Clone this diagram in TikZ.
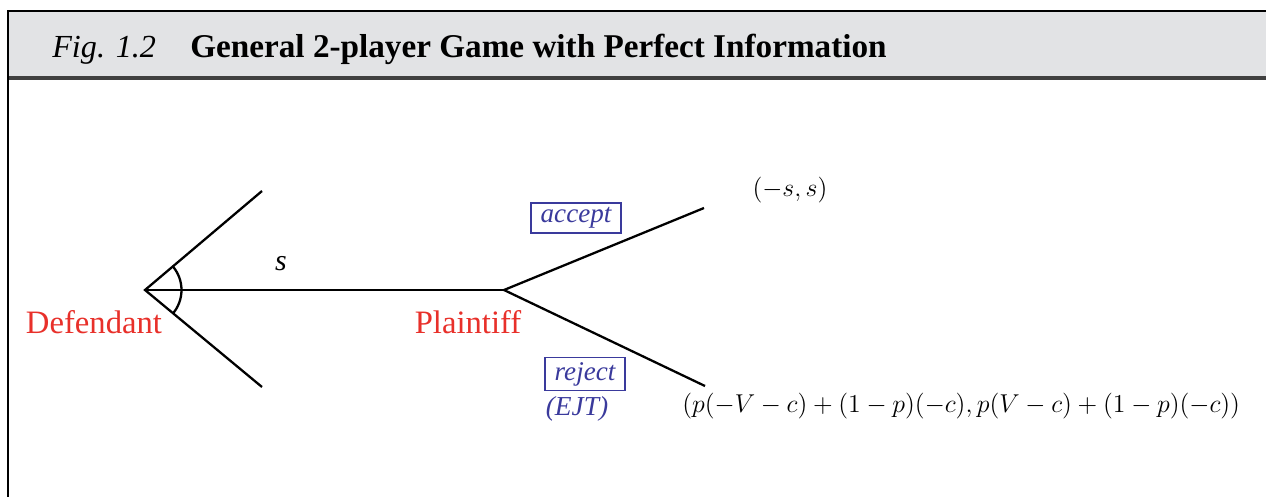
\documentclass[tikz,border=0pt]{standalone}
\usepackage[no-math]{fontspec}
\setmainfont{Liberation Serif}
\usetikzlibrary{calc}
\definecolor{plred}{HTML}{E8302A}
\definecolor{moveblue}{HTML}{3A3A9C}
\definecolor{bandgray}{HTML}{E2E3E5}
\tikzset{
  branch/.style={line width=1.3pt},
  player/.style={text=plred, font=\fontsize{18.6}{22}\selectfont},
  movebox/.style={draw=moveblue, line width=0.8pt, text=moveblue, font=\fontsize{15.4}{18}\selectfont\itshape, inner xsep=5.5pt, inner ysep=2.5pt},
  payoff/.style={font=\fontsize{14.4}{17}\selectfont, scale=1.02},
}
\begin{document}
\begin{tikzpicture}[x=0.02cm, y=-0.02cm]
\useasboundingbox (0,0) rectangle (1266,497);
% header band
\fill[bandgray] (8,11) rectangle (1266,78);
\draw[line width=1.4pt] (8,11) -- (1266,11);
\draw[line width=2pt, black!75] (8,78) -- (1266,78);
\draw[line width=1.2pt] (8,10) -- (8,497);
\node[anchor=base west, inner sep=0pt, font=\fontsize{18.3}{22}\selectfont\itshape] (fig) at (52,57) {Fig. 1.2};
\node[anchor=base west, inner sep=0pt, font=\fontsize{18.9}{22}\selectfont\bfseries] (title) at (190,57) {General 2-player Game with Perfect Information};

% tree
\coordinate (def) at (145,290);
\coordinate (pla) at (504,290);
\coordinate (up) at (262,191);
\coordinate (down) at (262,387);
\coordinate (acc) at (704,208);
\coordinate (rej) at (705,386);
\draw[branch] (up) -- (def) -- (down);
\draw[branch] (def) -- (pla);
\draw[branch] (acc) -- (pla) -- (rej);
\draw[branch] ($(def)+(-40:0.73cm)$) arc[start angle=-40, end angle=40, radius=0.73cm];

\node[player] (defl) at (94,322) {Defendant};
\node[player] (plal) at (468,322) {Plaintiff};
\node[font=\fontsize{17}{20}\selectfont\itshape] (offer) at (281,264) {s};
\node[movebox] (accl) at (576,218) {accept};
\node[movebox] (rejl) at (585,374) {reject};
\node[text=moveblue, font=\fontsize{15.6}{18}\selectfont\itshape] (ejt) at (577,409) {(EJT)};
\node[payoff] (accp) at (790,190) {$(-s,s)$};
\node[payoff, anchor=west] (rejp) at (676,406) {$(p(-V-c)+(1-p)(-c),p(V-c)+(1-p)(-c))$};
\end{tikzpicture}
\end{document}
